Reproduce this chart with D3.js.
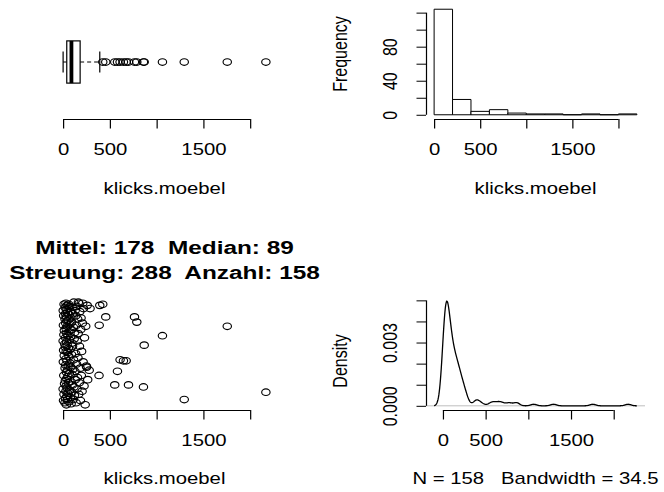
<!DOCTYPE html>
<html>
<head>
<meta charset="utf-8">
<script src="https://cdn.jsdelivr.net/npm/d3@7"></script>
<style>
  body { margin: 0; background: #fff; }
  svg { display: block; }
</style>
</head>
<body>
<svg width="664" height="492"></svg>
<script>
// klicks.moebel: outliers and marked points first, then the dense block
const klicks = [
  424, 456, 552, 581, 609, 645, 674, 699, 763, 788, 859, 867, 1062, 1295, 1755, 2168,
  163, 210, 252, 263, 279, 288, 384, 386, 392,
  0, 0, 1, 2, 3, 4, 5, 6, 7, 8, 9, 10, 12, 13, 15, 17, 19,
  20, 21, 22, 23, 24, 25, 25, 26, 27, 28, 29, 30, 31, 31, 32, 33, 34, 35, 35, 36, 37, 38, 39, 39,
  40, 41, 42, 43, 44, 45, 46, 47, 48, 49, 50, 51, 52, 53, 54, 55, 56, 57, 59,
  60, 61, 63, 64, 66, 67, 69, 70, 72, 73, 75, 76, 78, 79,
  80, 82, 84, 86, 88, 90, 91, 93, 95, 96, 98, 99,
  101, 103, 105, 108, 110, 112, 114, 116, 119,
  121, 124, 126, 129, 131, 134, 136, 139,
  141, 144, 146, 149, 151, 154, 156, 159,
  161, 167, 170, 173, 175, 178,
  182, 185, 189, 192, 195, 198,
  203, 206, 214, 218, 224, 229, 236, 242, 248, 258
];
// vertical jitter of each point in the strip chart (same order as klicks)
const jitter = [
  0.47, 0.35, -0.30, -0.17, -0.06, -0.07, -0.07, -0.30, 0.35, 0.30, -0.32, 0.08, 0.17, -0.44, 0.26, -0.37,
  0.49, 0.48, -0.13, -0.25, -0.16, 0.43, -0.21, 0.27, 0.46,
  0.12, -0.34, 0.41, -0.08, 0.27, -0.45, 0.03, 0.36, -0.21, 0.18,
  -0.39, 0.47, -0.02, 0.22, -0.29, 0.09, -0.47, 0.33, -0.14, 0.44,
  0.06, -0.26, 0.38, -0.43, 0.15, -0.11, 0.29, -0.36, 0.48, -0.05,
  0.24, -0.31, 0.02, 0.42, -0.18, -0.49, 0.11, 0.35, -0.24, 0.19,
  -0.41, 0.31, -0.07, 0.46, -0.33, 0.08, -0.16, 0.26, -0.44, 0.39,
  0.01, -0.22, 0.17, -0.38, 0.43, -0.12, 0.32, -0.28, 0.05, 0.47,
  -0.46, 0.21, -0.03, 0.37, -0.19, 0.13, -0.35, 0.45, -0.09, 0.28,
  -0.27, 0.04, 0.40, -0.42, 0.16, -0.13, 0.34, -0.48, 0.23, -0.01,
  0.30, -0.37, 0.10, -0.20, 0.44, -0.30, 0.07, 0.38, -0.15, -0.44,
  0.25, -0.06, 0.49, -0.32, 0.14, -0.40, 0.20, -0.17, 0.41, -0.25,
  0.00, 0.36, -0.47, 0.27, -0.10, 0.45, -0.34, 0.12, -0.23, 0.33,
  -0.04, 0.19, -0.39, 0.48, -0.28, 0.07, 0.40, -0.14, -0.45, 0.23,
  0.34, -0.21, 0.02, -0.36, 0.29, -0.08, 0.43, -0.31, 0.15, -0.49,
  0.26, -0.12, 0.46
];

const xTicks = [0, 500, 1000, 1500, 2000];
const xTickLabels = ["0", "500", "", "1500", ""];
const histBreaks = [0, 200, 400, 600, 800, 1000, 1200, 1400, 1600, 1800, 2000, 2200];
const histTicks = [0, 20, 40, 60, 80, 100, 120];
const histTickLabels = ["0", "", "40", "", "80", "", ""];
const densTicks = [0, 0.001, 0.002, 0.003, 0.004, 0.005];
const densTickLabels = ["0.000", "", "", "0.003", "", ""];
const bandwidth = 34.5;
const titleLines = ["Mittel: 178  Median: 89", "Streuung: 288  Anzahl: 158"];
const xLabel = "klicks.moebel";
const densSub = "N = 158   Bandwidth = 34.5";

// layout (plot regions of the 2x2 grid)
const colL = [55, 274], colR = [426, 645];
const rowT = [5, 119], rowB = [297, 410];
const stretch = 1.27;          // the picture is wider than tall: stretch text horizontally
const fs = 16;
const font = "'Liberation Sans', Arial, Helvetica, sans-serif";

const svg = d3.select("svg");

// R-like padding of 4% on both sides
function pad(ext) {
  const d = (ext[1] - ext[0]) * 0.04;
  return [ext[0] - d, ext[1] + d];
}

function addText(x, y, str, opts = {}) {
  svg.append("text")
    .attr("transform", `translate(${x},${y}) scale(${stretch},1)` + (opts.rot ? " rotate(-90)" : ""))
    .attr("text-anchor", "middle")
    .attr("font-family", font)
    .attr("font-size", opts.size || fs)
    .attr("font-weight", opts.bold ? "bold" : "normal")
    .attr("fill", "#000")
    .style("white-space", "pre")
    .text(str);
}

function bottomAxis(scale, y0, ticks, labels) {
  const ax = svg.append("g")
    .attr("transform", `translate(0,${y0})`)
    .call(d3.axisBottom(scale).tickValues(ticks).tickSize(9.5).tickFormat((d, i) => labels[i]));
  ax.attr("font-size", fs).attr("font-family", font);
  ax.select(".domain").remove();
  ax.append("line")
    .attr("x1", scale(ticks[0])).attr("x2", scale(ticks[ticks.length - 1]))
    .attr("y1", 0.5).attr("y2", 0.5)
    .attr("stroke", "#000");
  ax.selectAll(".tick line").attr("stroke", "#000").attr("stroke-width", 1.2);
  ax.selectAll(".tick text")
    .attr("y", null).attr("dy", null)
    .attr("transform", `translate(0,35.5) scale(${stretch},1)`)
    .attr("fill", "#000");
}

function leftAxis(scale, x0, ticks, labels) {
  const ax = svg.append("g")
    .attr("transform", `translate(${x0},0)`)
    .call(d3.axisLeft(scale).tickValues(ticks).tickSize(9.5).tickFormat((d, i) => labels[i]));
  ax.attr("font-size", fs).attr("font-family", font);
  ax.select(".domain").remove();
  ax.append("line")
    .attr("x1", 0.5).attr("x2", 0.5)
    .attr("y1", scale(ticks[0])).attr("y2", scale(ticks[ticks.length - 1]))
    .attr("stroke", "#000").attr("stroke-width", 1.2);
  ax.selectAll(".tick line").attr("stroke", "#000");
  ax.selectAll(".tick text")
    .attr("x", null).attr("dy", null)
    .attr("text-anchor", "middle")
    .attr("transform", `translate(-29.5,0) scale(${stretch},1) rotate(-90)`)
    .attr("fill", "#000");
}

function points(sel, cx, cy) {
  sel.append("ellipse")
    .attr("cx", cx).attr("cy", cy)
    .attr("rx", 4.2).attr("ry", 3.3)
    .attr("fill", "none").attr("stroke", "#000").attr("stroke-width", 1.15);
}

const sorted = klicks.slice().sort(d3.ascending);
const n = sorted.length;

// ---------- top left: horizontal boxplot ----------
const xBox = d3.scaleLinear().domain(pad(d3.extent(klicks))).range(colL);
const yBox = d3.scaleLinear().domain([0.46, 1.54]).range([rowT[1], rowT[0]]);

// Tukey five numbers as in boxplot.stats
const n4 = Math.floor((n + 3) / 2) / 2;
const fivePos = [1, n4, (n + 1) / 2, n + 1 - n4, n];
const five = fivePos.map(p => 0.5 * (sorted[Math.floor(p) - 1] + sorted[Math.ceil(p) - 1]));
const iqr = five[3] - five[1];
const inside = sorted.filter(v => v >= five[1] - 1.5 * iqr && v <= five[3] + 1.5 * iqr);
const whiskLo = d3.min(inside), whiskHi = d3.max(inside);
const outliers = sorted.filter(v => v < whiskLo || v > whiskHi);

const gBox = svg.append("g").attr("stroke", "#000").attr("fill", "none");
// whiskers (dashed) and staples
gBox.append("line").attr("x1", xBox(whiskLo)).attr("x2", xBox(five[1]))
  .attr("y1", yBox(1)).attr("y2", yBox(1)).attr("stroke-dasharray", "4,3");
gBox.append("line").attr("x1", xBox(five[3])).attr("x2", xBox(whiskHi))
  .attr("y1", yBox(1)).attr("y2", yBox(1)).attr("stroke-dasharray", "4,3");
[whiskLo, whiskHi].forEach(v => {
  gBox.append("line").attr("x1", xBox(v)).attr("x2", xBox(v))
    .attr("y1", yBox(0.9)).attr("y2", yBox(1.1)).attr("stroke-width", 1.2);
});
gBox.append("rect")
  .attr("x", xBox(five[1])).attr("width", xBox(five[3]) - xBox(five[1]))
  .attr("y", yBox(1.2)).attr("height", yBox(0.8) - yBox(1.2))
  .attr("fill", "#fff").attr("stroke-width", 1.2);
gBox.append("line").attr("x1", xBox(five[2])).attr("x2", xBox(five[2]))
  .attr("y1", yBox(1.2)).attr("y2", yBox(0.8)).attr("stroke-width", 3.8);
outliers.forEach(v => points(svg, xBox(v), yBox(1)));

bottomAxis(xBox, rowT[1], xTicks, xTickLabels);
addText((colL[0] + colL[1]) / 2, rowT[1] + 75, xLabel);

// ---------- top right: histogram ----------
const bins = d3.bin().domain([histBreaks[0], histBreaks[histBreaks.length - 1]])
  .thresholds(histBreaks.slice(1, -1))(klicks);
const xHist = d3.scaleLinear().domain(pad([histBreaks[0], histBreaks[histBreaks.length - 1]])).range(colR);
const yHist = d3.scaleLinear().domain(pad([0, d3.max(bins, b => b.length)])).range([rowT[1], rowT[0]]);

// paths so that empty bins still show as a line on the baseline
svg.append("g").selectAll("path")
  .data(bins)
  .join("path")
  .attr("d", d => `M${xHist(d.x0)},${yHist(0)}V${yHist(d.length)}H${xHist(d.x1)}V${yHist(0)}Z`)
  .attr("fill", "#fff")
  .attr("stroke", "#000");

bottomAxis(xHist, rowT[1], xTicks, xTickLabels);
leftAxis(yHist, colR[0], histTicks, histTickLabels);
addText((colR[0] + colR[1]) / 2, rowT[1] + 75, xLabel);
addText(colR[0] - 79, 54, "Frequency", {rot: true});

// ---------- bottom left: jittered strip chart ----------
const xStrip = d3.scaleLinear().domain(pad(d3.extent(klicks))).range(colL);
const yStrip = d3.scaleLinear().domain([0.46, 1.54]).range([rowB[1], rowB[0]]);

const gStrip = svg.append("g");
klicks.forEach((v, i) => points(gStrip, xStrip(v), yStrip(1 + jitter[i])));

bottomAxis(xStrip, rowB[1], xTicks, xTickLabels);
addText((colL[0] + colL[1]) / 2, rowB[1] + 74, xLabel);
addText((colL[0] + colL[1]) / 2, 254.3, titleLines[0], {bold: true, size: 19.2});
addText((colL[0] + colL[1]) / 2, 279, titleLines[1], {bold: true, size: 19.2});

// ---------- bottom right: kernel density ----------
const gauss = u => Math.exp(-0.5 * u * u) / Math.sqrt(2 * Math.PI);
const dFrom = d3.min(klicks) - 3 * bandwidth, dTo = d3.max(klicks) + 3 * bandwidth;
const grid = d3.range(512).map(i => dFrom + i * (dTo - dFrom) / 511);
const dens = grid.map(g => [g, d3.sum(klicks, v => gauss((g - v) / bandwidth)) / (n * bandwidth)]);

const xDens = d3.scaleLinear().domain(pad([dFrom, dTo])).range(colR);
const yDens = d3.scaleLinear().domain(pad([0, d3.max(dens, d => d[1])])).range([rowB[1], rowB[0]]);

svg.append("line")
  .attr("x1", colR[0]).attr("x2", colR[1])
  .attr("y1", yDens(0)).attr("y2", yDens(0))
  .attr("stroke", "#bebebe");
svg.append("path")
  .datum(dens)
  .attr("d", d3.line().x(d => xDens(d[0])).y(d => yDens(d[1])))
  .attr("fill", "none")
  .attr("stroke", "#000")
  .attr("stroke-width", 1.3);

bottomAxis(xDens, rowB[1], xTicks, xTickLabels);
leftAxis(yDens, colR[0], densTicks, densTickLabels);
addText((colR[0] + colR[1]) / 2, rowB[1] + 74, densSub);
addText(colR[0] - 79, 361, "Density", {rot: true});
</script>
</body>
</html>
